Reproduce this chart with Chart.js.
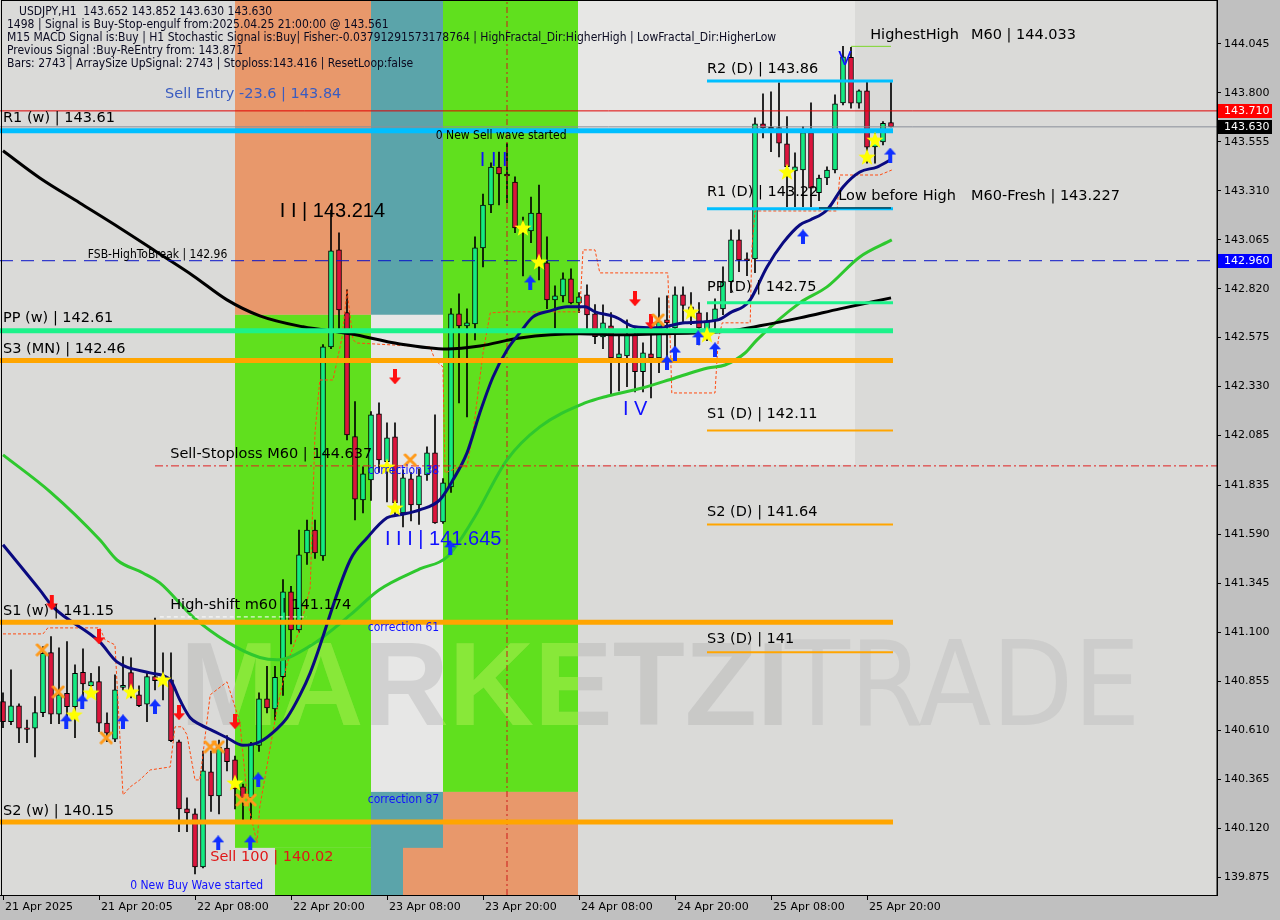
<!DOCTYPE html>
<html>
<head>
<meta charset="utf-8">
<script src="https://cdn.jsdelivr.net/npm/chart.js@4.4.0/dist/chart.umd.min.js"></script>
<style>
  html, body { margin: 0; padding: 0; background: #c0c0c0; }
  #wrap { width: 1280px; height: 920px; }
</style>
</head>
<body>
<div id="wrap"><canvas id="chart" width="1280" height="920"></canvas></div>
<script>
/* USDJPY H1 - MT4 style chart rebuilt with Chart.js */

// axis ranges / ticks
const X_MIN = -0.375, X_MAX = 151.75;
const Y_MIN = 139.785, Y_MAX = 144.265;
const xTickBars = [0, 12, 24, 36, 48, 60, 72, 84, 96, 108];
const xTickLabels = ['21 Apr 2025', '21 Apr 20:05', '22 Apr 08:00', '22 Apr 20:00', '23 Apr 08:00',
  '23 Apr 20:00', '24 Apr 08:00', '24 Apr 20:00', '25 Apr 08:00', '25 Apr 20:00'];
const yTickValues = [144.045, 143.800, 143.555, 143.310, 143.065, 142.820, 142.575, 142.330, 142.085,
  141.835, 141.590, 141.345, 141.100, 140.855, 140.610, 140.365, 140.120, 139.875];

// candles (one per hour)
const opens = [140.753,140.653,140.732,140.622,140.620,140.698,140.998,140.690,140.795,140.728,
  140.900,140.833,140.853,140.645,140.565,140.824,140.898,140.787,140.740,140.878,
  140.858,140.862,140.552,140.216,140.191,139.926,140.401,140.281,140.521,140.461,
  140.326,140.271,140.534,140.767,140.717,140.878,141.302,141.112,141.497,141.612,
  141.482,142.529,143.014,142.700,142.080,141.763,141.863,142.193,141.954,142.078,
  141.698,141.868,141.738,141.888,141.998,141.653,141.828,142.694,142.634,142.644,
  143.024,143.239,143.429,143.394,143.354,143.124,143.109,143.199,142.949,142.764,
  142.784,142.869,142.749,142.789,142.694,142.579,142.634,142.474,142.484,142.589,
  142.404,142.494,142.474,142.664,142.624,142.789,142.729,142.699,142.600,142.659,
  142.719,142.855,143.064,142.970,142.969,143.645,143.628,143.626,143.545,143.410,
  143.415,143.601,143.301,143.374,143.414,143.750,143.978,143.749,143.810,143.530,
  143.555,143.652];
const highs = [140.797,140.912,140.742,140.660,140.778,141.029,141.079,141.022,141.054,140.937,
  141.017,140.895,140.928,140.697,140.887,140.978,140.972,140.832,140.897,141.171,
  140.997,140.997,140.560,140.271,140.216,140.506,140.506,140.561,140.583,140.480,
  140.340,140.549,140.797,140.930,140.930,141.364,141.330,141.612,141.662,141.662,
  142.540,143.214,143.099,142.814,142.255,141.928,142.205,142.248,142.148,142.148,
  141.913,141.900,141.918,142.028,142.188,141.870,142.720,142.794,142.719,143.079,
  143.294,143.450,143.504,143.549,143.380,143.179,143.279,143.339,143.079,142.834,
  142.899,142.919,142.800,142.839,142.740,142.739,142.700,142.589,142.664,142.629,
  142.549,142.589,142.774,142.784,142.829,142.829,142.800,142.750,142.700,142.769,
  142.929,143.114,143.114,143.000,143.675,143.795,143.805,143.850,143.681,143.500,
  143.631,143.750,143.389,143.430,143.790,144.033,144.028,143.815,143.857,143.600,
  143.656,143.852];
const lows = [140.622,140.637,140.548,140.548,140.476,140.678,140.642,140.642,140.637,140.572,
  140.772,140.812,140.603,140.553,140.553,140.812,140.772,140.728,140.653,140.812,
  140.762,140.552,140.102,140.102,139.891,139.921,140.203,140.191,140.406,140.216,
  140.161,140.161,140.504,140.697,140.662,140.784,141.042,141.100,141.440,141.470,
  141.460,142.520,142.599,142.063,141.663,141.698,141.760,141.900,141.753,141.679,
  141.628,141.658,141.640,141.860,141.645,141.645,141.800,142.248,142.178,142.564,
  142.929,143.200,143.239,143.250,143.100,142.884,143.050,142.864,142.720,142.624,
  142.754,142.744,142.700,142.614,142.545,142.520,142.288,142.308,142.330,142.303,
  142.303,142.273,142.400,142.480,142.500,142.654,142.640,142.539,142.560,142.600,
  142.690,142.800,142.905,142.885,142.900,143.575,143.506,143.480,143.231,143.231,
  143.231,143.231,143.260,143.340,143.400,143.740,143.724,143.724,143.448,143.448,
  143.540,143.630];
const closes = [140.653,140.732,140.620,140.614,140.698,140.995,140.690,140.787,140.728,140.895,
  140.842,140.853,140.645,140.595,140.812,140.834,140.782,140.733,140.878,140.858,
  140.866,140.557,140.216,140.196,139.926,140.406,140.281,140.526,140.453,140.316,
  140.271,140.539,140.767,140.722,140.874,141.302,141.112,141.488,141.612,141.497,
  142.529,143.009,142.714,142.088,141.766,141.893,142.188,141.963,142.073,141.748,
  141.873,141.738,141.883,141.998,141.648,141.848,142.694,142.634,142.649,143.024,
  143.239,143.429,143.394,143.384,143.124,143.110,143.199,142.949,142.764,142.784,
  142.869,142.749,142.779,142.689,142.580,142.649,142.474,142.494,142.589,142.404,
  142.499,142.474,142.654,142.649,142.789,142.736,142.700,142.624,142.659,142.719,
  142.855,143.064,142.964,142.960,143.645,143.625,143.618,143.548,143.431,143.430,
  143.601,143.323,143.374,143.414,143.745,143.981,143.749,143.810,143.528,143.561,
  143.648,143.630];

// moving averages, read at sample bars
const slowMaBars = [0, 4.6, 9.6, 14.6, 19.6, 23.8, 28, 32.1, 37.5, 43.4, 49.6, 55.5, 59.6, 64.6, 72.1, 77.1, 82.1, 87.1, 90.9, 94.6, 99.6, 104.6, 111];
const slowMaVals = [143.51, 143.374, 143.249, 143.124, 142.994, 142.884, 142.764, 142.684, 142.629, 142.594, 142.543, 142.518, 142.533, 142.573, 142.594, 142.589, 142.594, 142.599, 142.609, 142.634, 142.674, 142.719, 142.774];
const navyMaBars = [0, 4.6, 6.25, 12.1, 14.25, 18.4, 20.9, 22.1, 23.4, 24.6, 26.25, 28, 30, 32.1, 34.25, 35.5, 37.1, 38.4, 43.4, 45.5, 48, 49.6, 52.1, 54.6, 56.25, 58, 59.6, 61.25, 63, 64.6, 66.25, 68.4, 70.5, 72.75, 74, 76.5, 79, 81.5, 85.25, 89.4, 91.1, 92.5, 93.4, 95.5, 97.5, 99.6, 100.9, 103, 105, 107.1, 109.25, 110.9];
const navyMaVals = [141.538, 141.312, 141.227, 141.052, 140.952, 140.897, 140.862, 140.762, 140.672, 140.639, 140.607, 140.572, 140.534, 140.552, 140.617, 140.672, 140.784, 140.897, 141.462, 141.572, 141.673, 141.688, 141.713, 141.763, 141.863, 141.998, 142.198, 142.378, 142.513, 142.599, 142.679, 142.709, 142.729, 142.729, 142.704, 142.679, 142.629, 142.624, 142.649, 142.664, 142.704, 142.729, 142.764, 142.929, 143.049, 143.139, 143.164, 143.214, 143.329, 143.404, 143.429, 143.464];
const greenMaBars = [0, 5.9, 12.1, 14.25, 17.5, 19.6, 23.75, 28, 32.1, 34.25, 38.4, 43.4, 47, 52.1, 55.5, 58.75, 63, 67.1, 72.75, 75.6, 79.9, 84, 88.1, 90.25, 92.75, 94.25, 99.6, 103, 107.1, 111.1];
const greenMaVals = [141.988, 141.803, 141.563, 141.462, 141.397, 141.347, 141.177, 141.052, 140.974, 140.962, 141.032, 141.187, 141.312, 141.417, 141.477, 141.663, 141.963, 142.128, 142.248, 142.283, 142.323, 142.373, 142.423, 142.438, 142.498, 142.564, 142.749, 142.829, 142.979, 143.064];

// thin stepped trailing line (orange-red dashes)
const trailBars = [0, 5, 5.6, 12.1, 12.75, 14, 15, 15.9, 17.1, 18.4, 20.9, 21.5, 22.4, 23, 24, 24.6, 25.9, 28, 29.6, 30.6, 31.75, 32.1, 34.25, 35.5, 37.1, 38.4, 39, 39.6, 41.25, 42.4, 43, 43.75, 44.25, 53.4, 54, 55, 55.25, 57.1, 58, 58.75, 60, 60.9, 63, 72.1, 72.5, 74, 74.6, 83.1, 83.4, 83.6, 89, 89.4, 89.9, 93.4, 93.6, 94, 104.25, 104.6, 109.6, 111.1];
const trailVals = [141.092, 141.092, 141.122, 141.122, 141.062, 141.037, 140.286, 140.326, 140.361, 140.411, 140.426, 140.627, 140.627, 140.587, 140.361, 140.361, 140.787, 140.852, 140.652, 140.246, 140.046, 140.226, 140.717, 140.942, 141.117, 141.322, 142.098, 142.363, 142.363, 142.579, 142.814, 142.564, 142.548, 142.528, 142.463, 142.428, 141.898, 141.928, 141.928, 142.098, 142.498, 142.699, 142.704, 142.704, 143.014, 143.014, 142.899, 142.899, 142.564, 142.298, 142.298, 142.564, 142.649, 142.649, 143.014, 143.209, 143.209, 143.389, 143.389, 143.414];

// pivot levels
const weekLevels = [143.61, 142.61, 142.46, 141.15, 140.15];
const dayLevels = [143.86, 143.22, 142.75, 142.11, 141.64, 141.00];

// signal markers
const starBars = [8.9, 11, 16, 20, 29, 48, 49, 65, 67, 86, 88, 98, 108, 109];
const starVals = [140.687, 140.797, 140.802, 140.862, 140.346, 141.928, 141.723, 143.124, 142.954, 142.704, 142.589, 143.404, 143.479, 143.564];
const upBars = [7.9, 9.9, 15, 19, 26.9, 30.9, 31.9, 55.9, 65.9, 83, 84, 86.9, 89, 100, 110.9];
const upVals = [140.652, 140.752, 140.652, 140.727, 140.046, 140.046, 140.361, 141.523, 142.849, 142.448, 142.498, 142.574, 142.514, 143.079, 143.489];
const downBars = [6.1, 12, 22, 29, 49, 79, 81];
const downVals = [141.247, 141.077, 140.697, 140.652, 142.378, 142.769, 142.654];
const crossBars = [4.9, 6.9, 12.9, 25.9, 26.9, 29.9, 30.9, 50.9, 81.9];
const crossVals = [141.012, 140.802, 140.572, 140.527, 140.527, 140.261, 140.261, 141.963, 142.664];

// background zones
const zoneFrom = [29, 46, 55, 29, 34, 46, 46, 55, 50];
const zoneTo = [46, 55, 71.875, 46, 46, 55, 55, 71.875, 55];
const zoneLow = [142.689, 142.689, 140.301, 140.021, Y_MIN, 140.301, Y_MIN, Y_MIN, Y_MIN];
const zoneHigh = [Y_MAX, Y_MAX, Y_MAX, 142.689, 140.021, 142.689, 140.301, 140.301, 140.021];
const zoneColors = ['#e8986b', '#5ba4aa', '#60e01e', '#60e01e', '#60e01e', '#e7e7e6', '#5ba4aa', '#e8986b', '#e8986b'];

const bidLevel = 143.630, askLevel = 143.710, fsbLevel = 142.960;

// ---------- helpers ----------
const FONT_AX = '"DejaVu Sans", sans-serif';
const FONT_LBL = '14.5px "DejaVu Sans", sans-serif';
const FONT_BIG = '20px "Liberation Sans", Arial, sans-serif';
const FONT_SMALL = '12px "Liberation Sans Narrow", "DejaVu Sans Condensed", sans-serif';

const pts = (bars, vals) => bars.map((b, i) => ({ x: b, y: vals[i] }));
const hline = (val, from, to, color, width, dash, order) => ({
  type: 'line', data: [{ x: from, y: val }, { x: to, y: val }], borderColor: color,
  borderWidth: width, borderDash: dash || [], pointRadius: 0, order: order || 10
});

function makeIcon(w, h, draw) {
  const c = document.createElement('canvas');
  c.width = w; c.height = h;
  draw(c.getContext('2d'));
  return c;
}
const starIcon = makeIcon(20, 20, g => {
  g.fillStyle = '#ffff00';
  g.beginPath();
  for (let i = 0; i < 10; i++) {
    const r = i % 2 ? 3.8 : 9;
    const a = -Math.PI / 2 + i * Math.PI / 5;
    g.lineTo(10 + r * Math.cos(a), 10.5 + r * Math.sin(a));
  }
  g.closePath(); g.fill();
});
const upIcon = makeIcon(12, 15, g => {
  g.fillStyle = '#1030ff';
  g.beginPath();
  g.moveTo(6, 0); g.lineTo(12, 7); g.lineTo(8, 7); g.lineTo(8, 15); g.lineTo(4, 15); g.lineTo(4, 7); g.lineTo(0, 7);
  g.closePath(); g.fill();
});
const downIcon = makeIcon(12, 15, g => {
  g.fillStyle = '#ff1010';
  g.beginPath();
  g.moveTo(6, 15); g.lineTo(12, 8); g.lineTo(8, 8); g.lineTo(8, 0); g.lineTo(4, 0); g.lineTo(4, 8); g.lineTo(0, 8);
  g.closePath(); g.fill();
});
const crossIcon = makeIcon(14, 14, g => {
  g.strokeStyle = '#ff9a1a'; g.lineWidth = 3; g.lineCap = 'round';
  g.beginPath(); g.moveTo(2, 2); g.lineTo(12, 12); g.moveTo(12, 2); g.lineTo(2, 12); g.stroke();
});

// ---------- datasets ----------
const bars = opens.map((_, i) => i);
const up = bars.map(i => closes[i] >= opens[i]);

const datasets = [
  { type: 'bar', data: bars.map(i => ({ x: i, y: [lows[i], highs[i]] })), backgroundColor: '#000',
    barThickness: 1, maxBarThickness: 1, grouped: false, order: 30 },
  { type: 'bar', data: bars.map(i => ({ x: i, y: [opens[i], closes[i]] })),
    backgroundColor: bars.map(i => up[i] ? '#14eb82' : '#dc143c'), borderColor: '#000', borderWidth: 1,
    borderSkipped: false, barThickness: 5, maxBarThickness: 5, grouped: false, order: 29 },

  { type: 'line', data: pts(trailBars, trailVals), borderColor: '#ff4a10', borderWidth: 1, borderDash: [3, 2],
    pointRadius: 0, order: 13 },
  { type: 'line', data: pts(slowMaBars, slowMaVals), borderColor: '#000', borderWidth: 3, pointRadius: 0, cubicInterpolationMode: 'monotone', order: 12 },
  { type: 'line', data: pts(greenMaBars, greenMaVals), borderColor: '#2ec82e', borderWidth: 3, pointRadius: 0, cubicInterpolationMode: 'monotone', order: 12 },
  { type: 'line', data: pts(navyMaBars, navyMaVals), borderColor: '#0a0a80', borderWidth: 3, pointRadius: 0, cubicInterpolationMode: 'monotone', order: 11 },

  hline(askLevel, X_MIN, X_MAX, '#e00000', 1),
  hline(bidLevel, X_MIN, X_MAX, '#8a8f99', 1),
  hline(fsbLevel, X_MIN, X_MAX, '#0a14c8', 1, [13, 8]),
  hline(141.933, 19, X_MAX, '#e02020', 1, [8, 3, 2, 3]),
  hline(141.177, 19.6, 38, '#ffffff', 1, [4, 3]),
  hline(144.033, 106, 111, '#7cd62c', 1),
  hline(143.224, 102, 111, '#000', 1),
  { type: 'line', data: [{ x: 63, y: Y_MIN }, { x: 63, y: Y_MAX }], borderColor: '#cc1a1a', borderWidth: 1,
    borderDash: [6, 3, 2, 3], pointRadius: 0, order: 25 },
];
const weekColors = ['#00bfff', '#1cf28a', '#ffa500', '#ffa500', '#ffa500'];
const dayColors = ['#00bfff', '#00bfff', '#1cf28a', '#ffa500', '#ffa500', '#ffa500'];
weekLevels.forEach((v, i) => datasets.push(hline(v, X_MIN, 111.25, weekColors[i], 5)));
dayLevels.forEach((v, i) => datasets.push(hline(v, 88, 111.25, dayColors[i], i < 3 ? 3 : 2)));

const markerSet = (b, v, icon) => ({ type: 'line', data: pts(b, v), showLine: false, pointStyle: icon,
  pointRadius: 8, order: 1 });
datasets.push(markerSet(crossBars, crossVals, crossIcon));
datasets.push(markerSet(upBars, upVals, upIcon));
datasets.push(markerSet(downBars, downVals, downIcon));
datasets.push(markerSet(starBars, starVals, starIcon));

// ---------- text notes (bar, price) ----------
const notes = [
  { t: 'R1 (w) | 143.61', b: 0, p: 143.675, f: FONT_LBL, c: '#000' },
  { t: 'PP (w) | 142.61', b: 0, p: 142.674, f: FONT_LBL, c: '#000' },
  { t: 'S3 (MN) | 142.46', b: 0, p: 142.518, f: FONT_LBL, c: '#000' },
  { t: 'S1 (w) | 141.15', b: 0, p: 141.207, f: FONT_LBL, c: '#000' },
  { t: 'S2 (w) | 140.15', b: 0, p: 140.206, f: FONT_LBL, c: '#000' },
  { t: 'R2 (D) | 143.86', b: 88, p: 143.920, f: FONT_LBL, c: '#000' },
  { t: 'R1 (D) | 143.22', b: 88, p: 143.304, f: FONT_LBL, c: '#000' },
  { t: 'PP (D) | 142.75', b: 88, p: 142.829, f: FONT_LBL, c: '#000' },
  { t: 'S1 (D) | 142.11', b: 88, p: 142.193, f: FONT_LBL, c: '#000' },
  { t: 'S2 (D) | 141.64', b: 88, p: 141.703, f: FONT_LBL, c: '#000' },
  { t: 'S3 (D) | 141', b: 88, p: 141.067, f: FONT_LBL, c: '#000' },
  { t: 'HighestHigh', b: 108.4, p: 144.090, f: FONT_LBL, c: '#000' },
  { t: 'M60 | 144.033', b: 121, p: 144.090, f: FONT_LBL, c: '#000' },
  { t: 'Low before High', b: 104.4, p: 143.284, f: FONT_LBL, c: '#000' },
  { t: 'M60-Fresh | 143.227', b: 121, p: 143.284, f: FONT_LBL, c: '#000' },
  { t: 'Sell Entry -23.6 | 143.84', b: 20.25, p: 143.795, f: FONT_LBL, c: '#3a5cc0' },
  { t: 'Sell-Stoploss M60 | 144.637', b: 20.9, p: 141.993, f: FONT_LBL, c: '#000' },
  { t: 'High-shift m60 | 141.174', b: 20.9, p: 141.237, f: FONT_LBL, c: '#000' },
  { t: 'FSB-HighToBreak | 142.96', b: 10.6, p: 142.989, f: FONT_SMALL, c: '#000' },
  { t: '0 New Sell wave started', b: 54.1, p: 143.585, f: FONT_SMALL, c: '#000' },
  { t: '0 New Buy Wave started', b: 15.9, p: 139.831, f: FONT_SMALL, c: '#1010ff' },
  { t: 'correction 38', b: 45.6, p: 141.908, f: FONT_SMALL, c: '#1010ff' },
  { t: 'correction 61', b: 45.6, p: 141.122, f: FONT_SMALL, c: '#1010ff' },
  { t: 'correction 87', b: 45.6, p: 140.261, f: FONT_SMALL, c: '#1010ff' },
  { t: 'Sell 100 | 140.02', b: 25.9, p: 139.976, f: FONT_LBL, c: '#e01818' },
  { t: 'I I | 143.214', b: 34.6, p: 143.204, f: FONT_BIG, c: '#000' },
  { t: 'I I I', b: 59.6, p: 143.464, f: FONT_BIG, c: '#1010ff' },
  { t: 'I I I | 141.645', b: 47.75, p: 141.563, f: FONT_BIG, c: '#1010ff' },
  { t: 'I V', b: 77.5, p: 142.213, f: FONT_BIG, c: '#1010ff' },
  { t: 'V', b: 104.4, p: 143.965, f: FONT_BIG, c: '#1010ff' },
];

const header = [
  'USDJPY,H1  143.652 143.852 143.630 143.630',
  '1498 | Signal is Buy-Stop-engulf from:2025.04.25 21:00:00 @ 143.561',
  'M15 MACD Signal is:Buy | H1 Stochastic Signal is:Buy| Fisher:-0.03791291573178764 | HighFractal_Dir:HigherHigh | LowFractal_Dir:HigherLow',
  'Previous Signal :Buy-ReEntry from: 143.871',
  'Bars: 2743 | ArraySize UpSignal: 2743 | Stoploss:143.416 | ResetLoop:false'
];

// price tags on the right axis
const tagVals = [askLevel, bidLevel, fsbLevel];
const tagColors = ['#ff0000', '#000000', '#0000ff'];

// ---------- plugins ----------
const backdrop = {
  id: 'backdrop',
  beforeDatasetsDraw(chart) {
    const { ctx, chartArea: a, scales: { x, y } } = chart;
    ctx.save();
    ctx.fillStyle = '#dadad8';
    ctx.fillRect(a.left, a.top, a.right - a.left, a.bottom - a.top);
    // lighter area on the right part
    ctx.fillStyle = 'rgba(255,255,255,0.35)';
    const lx = x.getPixelForValue(71.875), rx = x.getPixelForValue(106.5);
    ctx.fillRect(lx, a.top, rx - lx, y.getPixelForValue(141.938) - a.top);
    const rects = zoneFrom.map((f, i) => {
      const x0 = x.getPixelForValue(f), x1 = x.getPixelForValue(zoneTo[i]);
      const y0 = y.getPixelForValue(zoneHigh[i]), y1 = y.getPixelForValue(zoneLow[i]);
      return [x0, y0, x1 - x0, y1 - y0];
    });
    rects.forEach((r, i) => { ctx.fillStyle = zoneColors[i]; ctx.fillRect(r[0], r[1], r[2], r[3]); });

    // watermark
    ctx.beginPath(); ctx.rect(a.left, a.top, a.right - a.left, a.bottom - a.top); ctx.clip();
    ctx.textBaseline = 'alphabetic';
    ctx.font = 'bold 118px "Liberation Sans", Arial, sans-serif';
    ctx.fillStyle = 'rgba(170,170,170,0.35)';
    ctx.fillText('MARKETZI', 180, 725);
    ctx.font = '118px "Liberation Sans Narrow", "DejaVu Sans Condensed", sans-serif';
    ctx.fillStyle = 'rgba(175,175,175,0.30)';
    ctx.fillText('TRADE', 785, 725);
    rects.forEach((r, i) => {
      if (zoneColors[i] !== '#60e01e') return;
      ctx.save();
      ctx.beginPath(); ctx.rect(r[0], r[1], r[2], r[3]); ctx.clip();
      ctx.font = 'bold 118px "Liberation Sans", Arial, sans-serif';
      ctx.fillStyle = 'rgba(150,255,40,0.55)';
      ctx.fillText('MARKETZI', 180, 725);
      ctx.restore();
    });
    ctx.restore();
  },
  afterDatasetsDraw(chart) {
    const { ctx, chartArea: a, scales: { x, y } } = chart;
    ctx.save();
    ctx.beginPath(); ctx.rect(a.left, a.top, a.right - a.left, a.bottom - a.top); ctx.clip();
    ctx.textBaseline = 'middle';
    ctx.textAlign = 'left';
    notes.forEach(n => {
      ctx.font = n.f; ctx.fillStyle = n.c;
      ctx.fillText(n.t, x.getPixelForValue(n.b), y.getPixelForValue(n.p));
    });
    ctx.font = FONT_SMALL;
    ctx.fillStyle = '#0a0a20';
    header.forEach((line, i) => ctx.fillText(line, a.left + (i === 0 ? 19 : 7), a.top + 12 + i * 13));
    ctx.restore();
  },
  afterDraw(chart) {
    const { ctx, chartArea: a, scales: { y } } = chart;
    ctx.save();
    ctx.strokeStyle = '#000'; ctx.lineWidth = 1;
    ctx.strokeRect(a.left + 1.5, a.top + 0.5, a.right - a.left - 1.5, a.bottom - a.top);
    ctx.font = '11px ' + FONT_AX;
    ctx.textBaseline = 'middle';
    tagVals.forEach((v, i) => {
      const py = Math.round(y.getPixelForValue(v));
      ctx.fillStyle = tagColors[i];
      ctx.fillRect(a.right + 1, py - 7, 54, 14);
      ctx.fillStyle = '#fff';
      ctx.fillText(v.toFixed(3), a.right + 7, py + 0.5);
    });
    ctx.restore();
  }
};

new Chart(document.getElementById('chart').getContext('2d'), {
  type: 'bar',
  data: { datasets },
  options: {
    responsive: false,
    animation: false,
    devicePixelRatio: 1,
    events: [],
    layout: { padding: 0, autoPadding: false },
    plugins: { legend: { display: false }, tooltip: { enabled: false } },
    scales: {
      x: {
        type: 'linear', min: X_MIN, max: X_MAX, offset: false,
        grid: { display: true, drawOnChartArea: false, drawTicks: true, tickLength: 5, color: '#000', offset: false },
        border: { display: true, color: '#000' },
        afterBuildTicks: s => { s.ticks = xTickBars.map(v => ({ value: v })); },
        afterFit: s => { s.height = 25; s.paddingLeft = 0; s.paddingRight = 0; },
        ticks: {
          autoSkip: false, maxRotation: 0, align: 'start', padding: 1, labelOffset: 2, color: '#000',
          font: { family: 'DejaVu Sans', size: 11 },
          callback: v => { const i = xTickBars.indexOf(v); return i >= 0 ? xTickLabels[i] : ''; }
        }
      },
      y: {
        type: 'linear', position: 'right', min: Y_MIN, max: Y_MAX,
        grid: { display: true, drawOnChartArea: false, drawTicks: true, tickLength: 4, color: '#000' },
        border: { display: true, color: '#000' },
        afterBuildTicks: s => { s.ticks = yTickValues.map(v => ({ value: v })); },
        afterFit: s => { s.width = 63; s.paddingTop = 0; s.paddingBottom = 0; },
        ticks: { padding: 3, color: '#000', font: { family: 'DejaVu Sans', size: 11 }, callback: v => v.toFixed(3) }
      }
    }
  },
  plugins: [backdrop]
});
</script>
</body>
</html>
